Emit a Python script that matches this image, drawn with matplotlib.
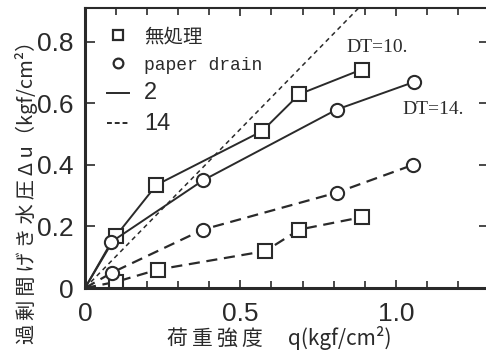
import matplotlib
matplotlib.use("Agg")
import matplotlib.pyplot as plt
from matplotlib.lines import Line2D
from matplotlib.ticker import MultipleLocator

# excess pore pressure vs. loading intensity
# 無処理 (no treatment)
sq2_q = [0, 0.10, 0.23, 0.57, 0.69, 0.89]
sq2_u = [0, 0.17, 0.335, 0.51, 0.63, 0.71]
sq14_q = [0, 0.10, 0.235, 0.58, 0.69, 0.89]
sq14_u = [0, 0.02, 0.06, 0.12, 0.19, 0.23]
# paper drain
pd2_q = [0, 0.085, 0.38, 0.81, 1.06]
pd2_u = [0, 0.15, 0.35, 0.58, 0.67]
pd14_q = [0, 0.087, 0.38, 0.81, 1.055]
pd14_u = [0, 0.05, 0.19, 0.31, 0.40]
# reference line (du = q)
ref_q = [0, 0.9]
ref_u = [0, 0.93]

x_ticks = [0, 0.5, 1.0]
x_ticklabels = ["0", "0.5", "1.0"]
y_ticks = [0, 0.2, 0.4, 0.6, 0.8]
y_ticklabels = ["0", "0.2", "0.4", "0.6", "0.8"]

cjk = ["Noto Sans CJK JP", "DejaVu Sans"]
ink = "#2a2a2a"
th = "\u2009"  # thin space, to spread the axis titles a bit

fig = plt.figure(figsize=(4.86, 3.59), dpi=100)
ax = fig.add_axes([85 / 486, 71 / 359, 404 / 486, 280 / 359])

mk = dict(markersize=9.5, markerfacecolor="white", markeredgecolor=ink,
          markeredgewidth=1.5, color=ink)
ax.plot(ref_q, ref_u, linestyle=(0, (3, 2.5)), linewidth=1.1, color=ink)
ax.plot(sq2_q, sq2_u, marker="s", linestyle="-", linewidth=1.4, markevery=list(range(1, len(sq2_q))), **mk)
ax.plot(pd2_q, pd2_u, marker="o", linestyle="-", linewidth=1.4, markevery=list(range(1, len(pd2_q))), **mk)
ax.plot(sq14_q, sq14_u, marker="s", linestyle=(0, (5, 3)), linewidth=1.6, markevery=list(range(1, len(sq14_q))), **mk)
ax.plot(pd14_q, pd14_u, marker="o", linestyle=(0, (5, 3)), linewidth=1.6, markevery=list(range(1, len(pd14_q))), **mk)

ax.set_xlim(0, 1.3)
ax.set_ylim(0, 0.91)
ax.set_xticks(x_ticks)
ax.set_xticklabels(x_ticklabels)
ax.set_yticks(y_ticks)
ax.set_yticklabels(y_ticklabels)
ax.xaxis.set_minor_locator(MultipleLocator(0.1))
ax.tick_params(which="both", direction="in", top=True, right=True, color=ink, width=1.2)
ax.tick_params(which="major", axis="y", length=7)
ax.tick_params(which="major", axis="x", length=6, pad=10)
ax.tick_params(which="minor", length=5)
ax.tick_params(axis="y", pad=8)
for lab in ax.get_xticklabels() + ax.get_yticklabels():
    lab.set_family("Liberation Sans")
    lab.set_fontsize(19)
    lab.set_color(ink)
for side in ["left", "bottom"]:
    ax.spines[side].set_linewidth(2.2)
    ax.spines[side].set_color(ink)
ax.spines["top"].set_linewidth(1.5)
ax.spines["top"].set_color(ink)

ylab = th.join("過剰間げき水圧") + th + "Δ u（kgf/cm²）"
ax.set_ylabel(ylab, family=cjk, fontsize=14.5, color=ink, va="center")
ax.yaxis.set_label_coords(-0.145, 0.36)
xlab = th.join("荷重強度") + "　" + th + "q(kgf/cm²)"
ax.set_xlabel(xlab, family=cjk, fontsize=15, color=ink, va="center")
ax.xaxis.set_label_coords(0.48, -0.18)

ax.text(0.94, 0.78, "DT=10.", family="Liberation Serif", fontsize=14, color=ink,
        ha="center", va="center")
ax.text(1.12, 0.58, "DT=14.", family="Liberation Serif", fontsize=14, color=ink,
        ha="center", va="center")

handles = [
    Line2D([], [], marker="s", linestyle="none", markersize=7, markerfacecolor="white",
           markeredgecolor=ink, markeredgewidth=1.6),
    Line2D([], [], marker="o", linestyle="none", markersize=7, markerfacecolor="white",
           markeredgecolor=ink, markeredgewidth=1.6),
    Line2D([], [], linestyle="-", linewidth=1.4, color=ink),
    Line2D([], [], linestyle=(0, (2.5, 1.5)), linewidth=1.4, color=ink),
]
leg = ax.legend(handles, ["無処理", "paper drain", "2", "14"], loc="upper left",
                bbox_to_anchor=(0.055, 0.935), frameon=False, borderpad=0,
                borderaxespad=0, handlelength=1.1, handletextpad=0.8,
                labelspacing=0.45, fontsize=14)
texts = leg.get_texts()
texts[0].set_family(cjk)
texts[1].set_family("Liberation Mono")
texts[1].set_fontsize(13)
texts[2].set_family("Liberation Sans")
texts[2].set_fontsize(17)
texts[3].set_family("Liberation Sans")
texts[3].set_fontsize(17)
for t in texts:
    t.set_color(ink)

fig.savefig("out.png", dpi=100)
